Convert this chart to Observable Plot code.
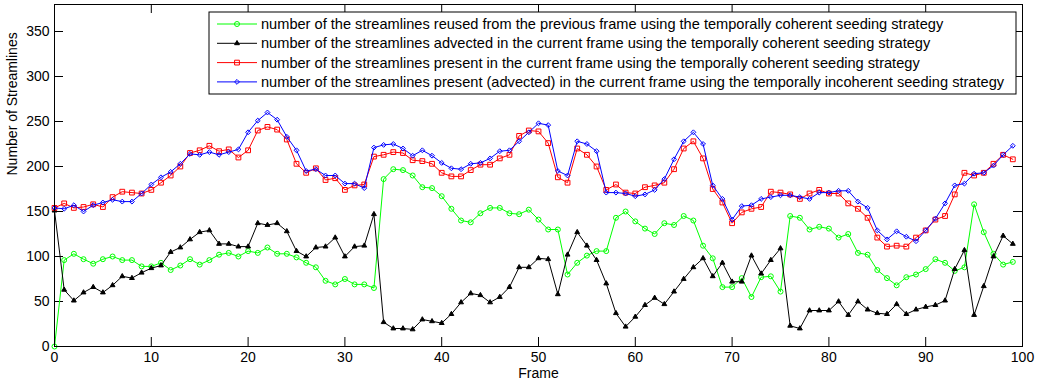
<!DOCTYPE html>
<html><head><meta charset="utf-8">
<script src="https://cdn.jsdelivr.net/npm/d3@7"></script>
<script src="https://cdn.jsdelivr.net/npm/@observablehq/plot@0.6"></script>
<style>
body{margin:0;background:#fff;}
svg{font-family:"Liberation Sans",Arial,sans-serif;}
</style>
</head><body><div id="chart"></div>
<script>
// Series values, frames 0..99
const reused = [0,96,103,97,92,97,100,96,96,89,89,93,85,90,97,91,96,102,104,100,106,104,
  110,103,103,99,93,88,73,69,75,69,69,65,186,197,196,190,177,176,167,153,140,138,148,154,154,
  148,147,152,141,130,130,80,93,101,106,106,143,150,139,131,125,137,135,145,140,112,98,66,66,76,55,
  77,78,61,145,143,130,133,131,121,125,104,102,85,76,68,77,80,86,97,93,84,88,158,127,103,91,94];
const advected = [151,63,51,60,66,60,68,78,76,82,87,90,105,110,119,127,129,114,114,111,111,137,
  135,137,128,106,100,110,111,121,100,111,112,147,27,20,20,19,30,28,26,36,49,59,57,49,55,
  66,88,88,98,97,58,102,127,112,96,70,37,22,33,46,54,47,61,75,88,98,78,93,72,72,101,
  81,96,109,23,20,40,40,40,50,35,50,41,37,36,47,36,41,44,46,51,86,107,35,67,100,123,114];
const presentCoherent = [154,159,154,155,158,155,166,172,171,170,174,182,190,200,215,218,223,217,219,210,218,240,
  244,241,230,203,193,198,185,187,174,179,180,211,213,216,215,207,206,203,193,189,189,196,202,202,209,
  213,234,240,239,226,188,182,220,213,200,174,180,171,170,177,179,182,197,220,228,209,175,160,137,149,153,
  155,172,171,169,164,170,174,170,170,159,153,143,121,111,112,111,121,129,141,145,169,193,190,193,203,213,208];
const presentIncoherent = [154,153,157,150,157,160,163,161,161,170,180,188,194,203,214,213,216,213,216,219,238,251,
  260,252,233,218,195,197,190,190,181,181,176,221,224,225,220,212,218,212,204,198,197,203,204,209,217,
  218,228,238,248,246,195,190,228,225,217,171,171,170,167,169,174,186,208,228,238,225,179,164,141,156,157,
  164,166,168,168,166,164,171,171,173,173,161,154,129,119,128,122,117,129,142,159,179,181,192,193,201,213,223];

const xTicks = [0,10,20,30,40,50,60,70,80,90,100];
const yTicks = [0,50,100,150,200,250,300,350];
const legendLabels = [
  "number of the streamlines reused from the previous frame using the temporally coherent seeding strategy",
  "number of the streamlines advected in the current frame using the temporally coherent seeding strategy",
  "number of the streamlines present in the current frame using the temporally coherent seeding strategy",
  "number of the streamlines present (advected) in the current frame using the temporally incoherent seeding strategy"
];
const xLabel = "Frame";
const yLabel = "Number of Streamlines";

const series = [
  {values: reused, color: "#00ff00", symbol: "circle", r: 2.5, fill: "none"},
  {values: advected, color: "#000000", symbol: "triangle", r: 1.8, fill: "#000000"},
  {values: presentCoherent, color: "#ff0000", symbol: "square", r: 2.7, fill: "none"},
  {values: presentIncoherent, color: "#0000ff", symbol: "diamond2", r: 2.2, fill: "none"}
];

const W = 1037, H = 387, mL = 54, mR = 15, mT = 4, mB = 41;
const pw = W - mL - mR, ph = H - mT - mB, tl = 9;

const marks = [];
for (const s of series) {
  const data = s.values.map((v, i) => ({frame: i, value: v}));
  marks.push(Plot.line(data, {x: "frame", y: "value", stroke: s.color, strokeWidth: 1}));
  marks.push(Plot.dot(data, {x: "frame", y: "value", symbol: s.symbol, r: s.r, stroke: s.color, fill: s.fill, strokeWidth: 1}));
}

const chart = Plot.plot({
  width: W, height: H,
  marginLeft: mL, marginRight: mR, marginTop: mT, marginBottom: mB,
  style: {fontFamily: "Liberation Sans, Arial, sans-serif", fontSize: "14px", background: "white", color: "black"},
  x: {domain: [0, 100]},
  y: {domain: [0, 380]},
  marks: [
    Plot.axisX(xTicks, {tickSize: 0, tickPadding: 6, fontSize: 14, label: null, fill: "black"}),
    Plot.axisY(yTicks, {tickSize: 0, tickPadding: 5, fontSize: 14, label: null, fill: "black"}),
    Plot.tickX(xTicks, {x: d => d, insetTop: ph - tl, stroke: "black"}),
    Plot.tickX(xTicks, {x: d => d, insetBottom: ph - tl, stroke: "black"}),
    Plot.tickY(yTicks, {y: d => d, insetRight: pw - tl, stroke: "black"}),
    Plot.tickY(yTicks, {y: d => d, insetLeft: pw - tl, stroke: "black"}),
    ...marks,
    Plot.frame({stroke: "black"}),
    Plot.text([xLabel], {frameAnchor: "bottom", dy: 31, fontSize: 14, fill: "black"}),
    Plot.text([yLabel], {frameAnchor: "left", dx: -42, rotate: -90, fontSize: 14, fill: "black"})
  ]
});

// Legend box drawn inside the axes, top-right
const svg = d3.select(chart);
const lg = svg.append("g").attr("class", "legend").attr("text-anchor", "start");
const bx = 209, by = 12, bw = 807, bh = 82, rowH = 19.3, row0 = 24;
lg.append("rect").attr("x", bx).attr("y", by).attr("width", bw).attr("height", bh)
  .attr("fill", "white").attr("stroke", "black").attr("stroke-width", 1);
const symMap = {circle: d3.symbolCircle, triangle: d3.symbolTriangle, square: d3.symbolSquare, diamond2: d3.symbolDiamond2};
series.forEach((s, i) => {
  const y = row0 + i * rowH;
  lg.append("line").attr("x1", bx + 8).attr("x2", bx + 48).attr("y1", y).attr("y2", y)
    .attr("stroke", s.color).attr("stroke-width", 1);
  lg.append("path").attr("d", d3.symbol(symMap[s.symbol], Math.PI * s.r * s.r)())
    .attr("transform", `translate(${bx + 28},${y})`)
    .attr("stroke", s.color).attr("fill", s.fill).attr("stroke-width", 1);
  lg.append("text").attr("x", bx + 52).attr("y", y).attr("dy", "0.35em")
    .attr("text-anchor", "start")
    .attr("font-size", 14.6).attr("fill", "black").text(legendLabels[i]);
});

document.getElementById("chart").appendChild(chart);
</script>
</body></html>
